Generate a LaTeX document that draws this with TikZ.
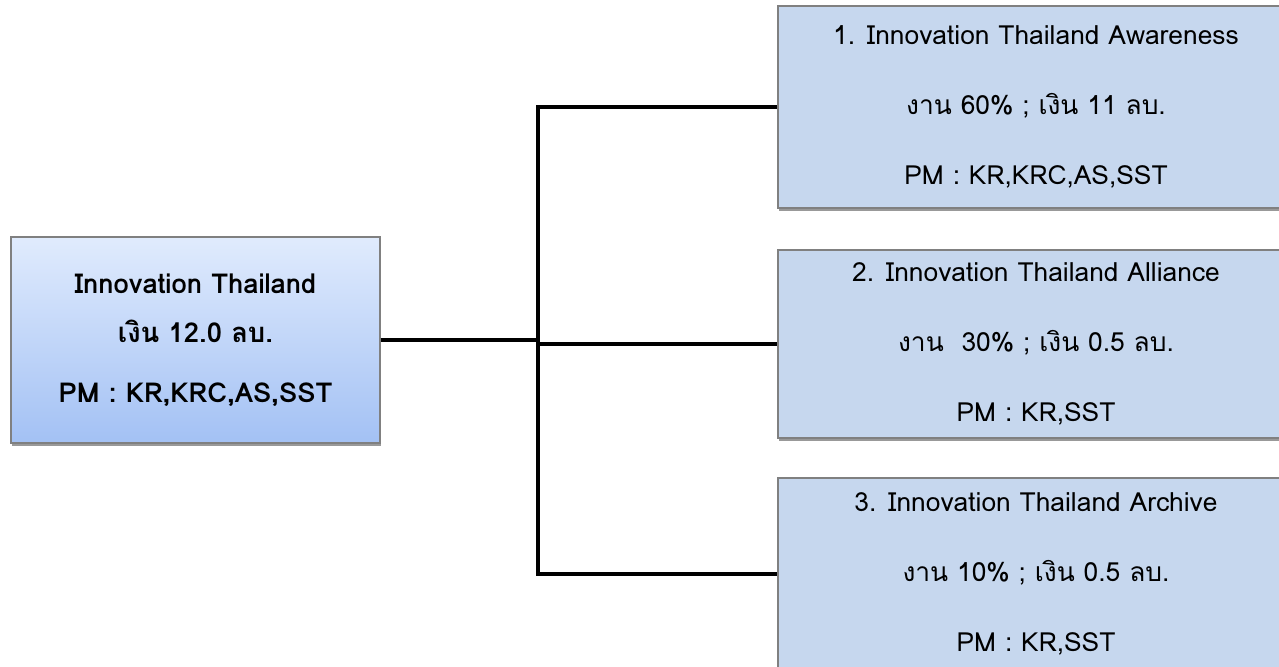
\documentclass[tikz,border=0pt]{standalone}
\usepackage{fontspec}
\setmainfont[Script=Thai]{Loma}
\usetikzlibrary{shadows}
\definecolor{boxfill}{RGB}{198,215,238}
\definecolor{topblue}{RGB}{224,235,253}
\definecolor{botblue}{RGB}{163,193,244}
\definecolor{boxline}{RGB}{128,128,128}
\begin{document}
\begin{tikzpicture}[
	base/.style={draw=boxline,line width=.8pt,align=center,inner sep=0pt,
		drop shadow={shadow xshift=.7pt,shadow yshift=-1.8pt,fill=black,opacity=.4}},
	mainbox/.style={base,top color=topblue,bottom color=botblue,
		minimum width=7.38cm,minimum height=4.12cm,font=\bfseries\fontsize{15.6}{28}\selectfont},
	subbox/.style={base,fill=boxfill,minimum width=10.32cm,font=\fontsize{15}{40}\selectfont},
	link/.style={line width=2.6pt,line join=miter}]
	\clip (0,0) rectangle (25.58,13.34);
	\node[mainbox] (M) at (3.91,6.54) {Innovation Thailand\\ เงิน 12.0 ลบ.\\[6pt] PM : KR,KRC,AS,SST};
	\foreach \n/\y/\h/\t in {
		1/11.20/4.04/{1. Innovation Thailand Awareness\\ งาน 60\% ; เงิน 11 ลบ.\\ PM : KR,KRC,AS,SST},
		2/6.46/3.76/{2. Innovation Thailand Alliance\\ งาน~ 30\% ; เงิน 0.5 ลบ.\\ PM : KR,SST},
		3/1.86/3.84/{3. Innovation Thailand Archive\\ งาน 10\% ; เงิน 0.5 ลบ.\\ PM : KR,SST}}
		\node[subbox,minimum height=\h cm] (S\n) at (20.72,\y) {\t};
	\coordinate (J) at (10.76,6.54);
	\draw[link] (M) -- (J);
	\foreach \n in {1,2,3} \draw[link] (J) |- (S\n);
\end{tikzpicture}
\end{document}
